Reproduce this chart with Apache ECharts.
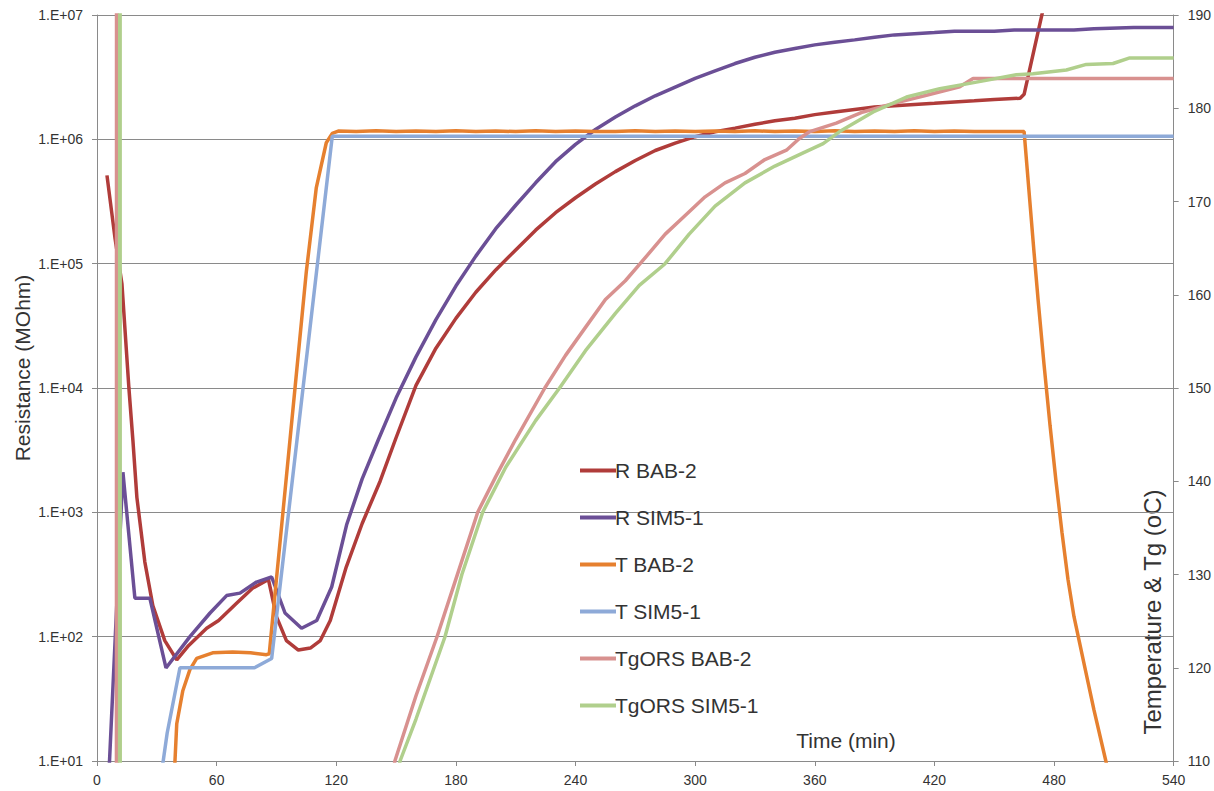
<!DOCTYPE html>
<html><head><meta charset="utf-8">
<script src="https://cdn.jsdelivr.net/npm/echarts@6/dist/echarts.min.js"></script>
<style>html,body{margin:0;padding:0;background:#fff}#c{width:1214px;height:791px}</style>
</head><body><div id="c"></div><script>
// ---- data ----
const seriesNames = ['R BAB-2','R SIM5-1','T BAB-2','T SIM5-1','TgORS BAB-2','TgORS SIM5-1'];
const resistanceTickLabels = ['1.E+01','1.E+02','1.E+03','1.E+04','1.E+05','1.E+06','1.E+07'];

const rBab2Time = [5,9,12.5,16,18,20,24,28,34,40,46,55,61,70,78,86,90,95,101,107,112,117,125,133,142,150,160,170,180,190,200,210,220,230,240,250,260,270,280,290,300,310,320,330,340,350,360,370,380,390,400,410,420,430,440,450,463,465,475];
const rBab2Val = [513000,162000,69000,10000,3800,1320,398,178,93,65,85,117,135,186,245,288,145,93,78,81,93,135,363,813,1780,3980,10500,20900,36300,58900,89100,129000,186000,257000,339000,437000,550000,676000,813000,933000,1050000,1150000,1230000,1320000,1410000,1480000,1580000,1660000,1740000,1820000,1860000,1910000,1950000,2000000,2040000,2090000,2140000,2300000,12000000];

const rSim51Time = [6,13,19,26.5,34.6,46.6,56.7,65,71.7,80,87.6,94.3,102.6,110.2,117.7,125.2,133,141,150,160,170,180,190,200,210,220,230,240,250,260,270,280,290,300,310,320,330,340,350,360,370,380,390,400,410,420,430,450,460,490,500,520,540];
const rSim51Val = [8,2100,204,204,56,100,155,214,224,275,302,155,117,135,251,794,1860,3800,8300,17800,35500,66100,115000,191000,295000,447000,661000,912000,1200000,1510000,1860000,2240000,2630000,3090000,3550000,4070000,4570000,5010000,5370000,5750000,6030000,6310000,6610000,6920000,7080000,7240000,7410000,7410000,7590000,7590000,7760000,7940000,7940000];

const tBab2Time = [38,40,43,46.6,50,58,68,77,85,86.4,90,95,100,105,110,115,118,121,130,140,150,160,170,180,190,200,210,220,230,240,250,260,270,280,290,300,310,320,330,340,350,360,370,380,390,400,410,420,430,440,450,460,465,467.8,470,472,475,478,481,484,487,490,495,500,506,510];
const tBab2Val = [105,114,117.5,119.8,121.0,121.6,121.7,121.6,121.4,121.5,129.5,140.5,151.5,162.5,171.5,176.3,177.3,177.55,177.5,177.58,177.5,177.57,177.5,177.58,177.5,177.56,177.5,177.58,177.5,177.57,177.52,177.5,177.58,177.5,177.56,177.5,177.57,177.5,177.58,177.5,177.56,177.5,177.58,177.5,177.57,177.5,177.58,177.5,177.56,177.5,177.5,177.52,177.5,170.2,164.5,159.5,152.5,146,140,134.5,129.5,125.5,120.5,115.5,110,106];

const tSim51Time = [31,33.2,35.2,41.6,79,87.6,118,540];
const tSim51Val = [107,110,113,120,120,121,177,177];

const tgBab2Time = [9.7,9.9,10.1,145,149.4,160,170.5,180,191,200,210,224.6,235,245,255,265,272.3,285,295,305,315,325,335,345.8,352,357.5,370.8,384.2,399.2,416,432.7,439.4,540];
const tgBab2Val = [0,400,0,104,110,117,123.3,129.5,136.7,140.5,144.5,150,153.5,156.5,159.5,161.5,163.3,166.5,168.5,170.5,172,173,174.5,175.5,176.7,177.5,178.4,179.6,180.5,181.4,182.3,183.2,183.2];

const tgSim51Time = [11.3,11.5,11.7,148,152,160,174.5,183,193.5,205,220,232,245,260,272,284.8,297,310,325,340,355,364.2,372.5,389.3,406,422.7,441.1,461.1,469.5,486.2,496.2,509.6,518,540];
const tgSim51Val = [0,400,0,106,110,114.5,123.3,130,136.7,141.5,146.5,150,154,158,161,163.3,166.5,169.5,172,173.8,175.3,176.2,177.5,179.6,181.2,182.1,182.8,183.6,183.7,184.1,184.7,184.8,185.4,185.4];

const xTickValues = [0,60,120,180,240,300,360,420,480,540];

// ---- chart ----
const zip = (a, b) => a.map((t, i) => [t, b[i]]);
const colors = ['#b03c3a','#6b4f96','#e6802f','#8eaad8','#d8918f','#b0cf8c'];
const FONT = 'Liberation Sans';
const axisGray = '#8a8a8a';
const textCol = '#333333';

const dataSets = [
  [rBab2Time, rBab2Val, 0],
  [rSim51Time, rSim51Val, 0],
  [tBab2Time, tBab2Val, 1],
  [tSim51Time, tSim51Val, 1],
  [tgBab2Time, tgBab2Val, 1],
  [tgSim51Time, tgSim51Val, 1]
];

const chart = echarts.init(document.getElementById('c'), null, {renderer: 'svg'});
chart.setOption({
  animation: false,
  backgroundColor: '#ffffff',
  grid: {left: 97, right: 40, top: 15, bottom: 30, containLabel: false},
  xAxis: {
    type: 'value', min: 0, max: 540, interval: 60,
    axisLine: {show: true, lineStyle: {color: axisGray, width: 1}},
    axisTick: {show: true, length: 5, lineStyle: {color: axisGray}},
    axisLabel: {color: textCol, fontSize: 14, fontFamily: FONT, margin: 12,
      formatter: v => xTickValues.includes(v) ? String(v) : ''},
    splitLine: {show: false}
  },
  yAxis: [
    {
      type: 'log', logBase: 10, min: 10, max: 10000000,
      axisLine: {show: true, lineStyle: {color: axisGray, width: 1}},
      axisTick: {show: true, length: 5, lineStyle: {color: axisGray}},
      minorTick: {show: false},
      axisLabel: {color: textCol, fontSize: 14, fontFamily: FONT, margin: 14,
        formatter: v => resistanceTickLabels[Math.round(Math.log10(v)) - 1] || ''},
      splitLine: {show: true, lineStyle: {color: axisGray, width: 1.2}}
    },
    {
      type: 'value', min: 110, max: 190, interval: 10, position: 'right',
      axisLine: {show: true, lineStyle: {color: axisGray, width: 1}},
      axisTick: {show: true, length: 5, lineStyle: {color: axisGray}},
      axisLabel: {color: textCol, fontSize: 14, fontFamily: FONT, margin: 14},
      splitLine: {show: false}
    }
  ],
  legend: {
    orient: 'vertical', left: 575, top: 455,
    icon: 'rect', itemWidth: 36, itemHeight: 4, itemGap: 26,
    textStyle: {fontSize: 21, color: textCol, fontFamily: FONT, padding: [0,0,0,-6]},
    data: seriesNames
  },
  graphic: [
    {type: 'text', x: 22, y: 368, rotation: Math.PI / 2,
      style: {text: 'Resistance (MOhm)', fill: textCol, font: '21px "Liberation Sans"', align: 'center', verticalAlign: 'middle'}},
    {type: 'text', x: 1152, y: 612, rotation: Math.PI / 2,
      style: {text: 'Temperature & Tg (oC)', fill: textCol, font: '24px "Liberation Sans"', align: 'center', verticalAlign: 'middle'}},
    {type: 'text', x: 846, y: 740,
      style: {text: 'Time (min)', fill: textCol, font: '21px "Liberation Sans"', align: 'center', verticalAlign: 'middle'}}
  ],
  series: dataSets.map((d, i) => ({
    name: seriesNames[i], type: 'line', yAxisIndex: d[2],
    data: zip(d[0], d[1]), showSymbol: false, symbol: 'none',
    clip: true, smooth: false,
    lineStyle: {width: 3.5, color: colors[i]}, itemStyle: {color: colors[i]}
  }))
});
</script></body></html>
